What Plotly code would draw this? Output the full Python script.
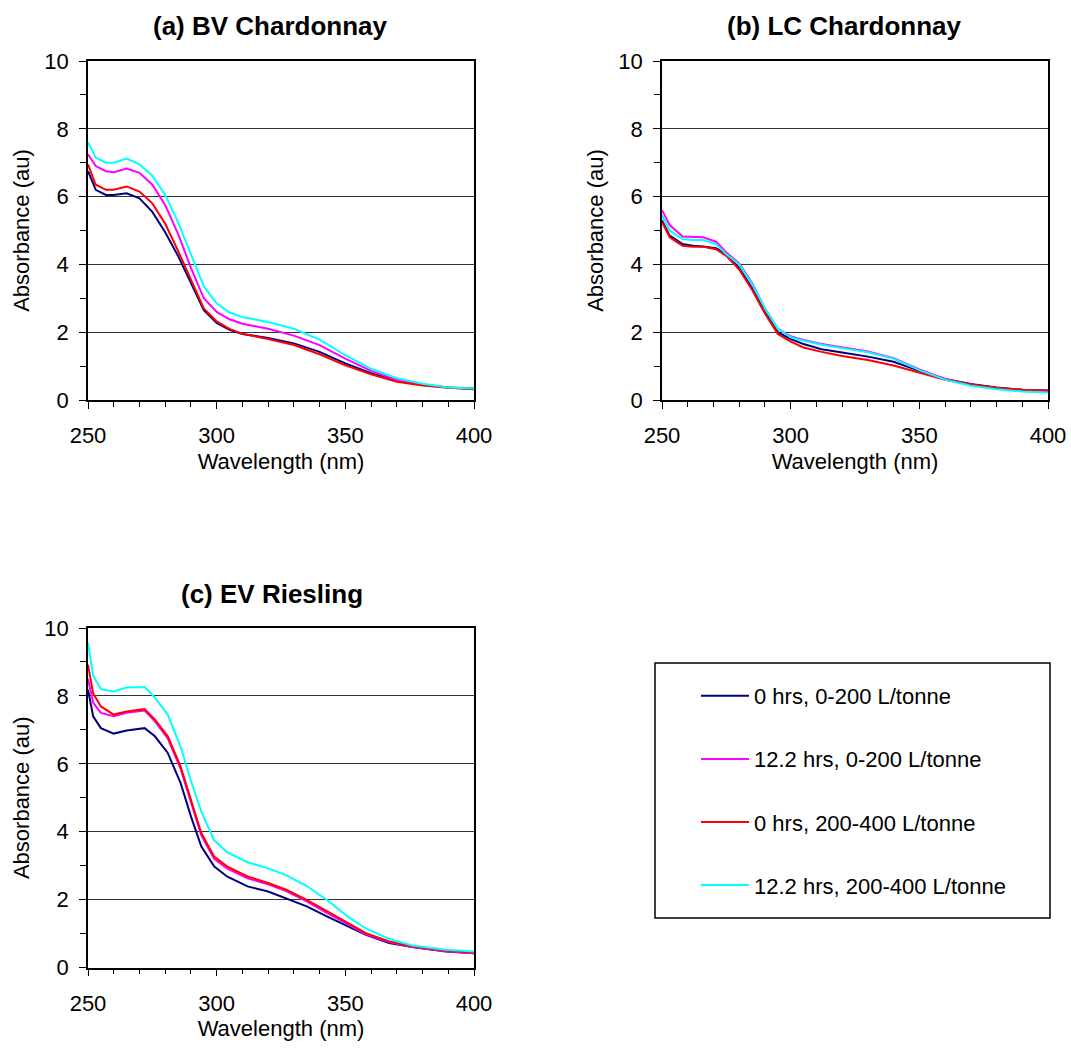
import plotly.graph_objects as go

# ---------------- data ----------------
series_names = ["0 hrs, 0-200 L/tonne", "12.2 hrs, 0-200 L/tonne",
                "0 hrs, 200-400 L/tonne", "12.2 hrs, 200-400 L/tonne"]
series_colors = ["#000080", "#FF00FF", "#FF0000", "#00FFFF"]

# (a) BV Chardonnay
wl_a = [250, 253, 257, 260, 265, 270, 275, 280, 285, 290, 295, 300, 305, 310,
        320, 330, 340, 350, 360, 370, 380, 390, 400]
a_0h_low = [6.75, 6.2, 6.05, 6.05, 6.1, 5.95, 5.55, 4.95, 4.25, 3.45, 2.65, 2.27,
            2.07, 1.95, 1.83, 1.67, 1.42, 1.08, 0.79, 0.57, 0.45, 0.37, 0.34]
a_12h_low = [7.25, 6.9, 6.75, 6.72, 6.83, 6.7, 6.35, 5.75, 4.9, 3.9, 3.0, 2.6,
             2.38, 2.25, 2.1, 1.9, 1.62, 1.22, 0.86, 0.59, 0.45, 0.37, 0.32]
a_0h_high = [6.95, 6.35, 6.2, 6.2, 6.3, 6.15, 5.8, 5.2, 4.4, 3.55, 2.7, 2.32,
             2.1, 1.95, 1.8, 1.62, 1.35, 1.02, 0.76, 0.54, 0.43, 0.36, 0.32]
a_12h_high = [7.6, 7.15, 7.0, 7.0, 7.12, 6.95, 6.62, 6.05, 5.25, 4.3, 3.35, 2.85,
              2.58, 2.45, 2.3, 2.1, 1.78, 1.32, 0.92, 0.64, 0.48, 0.37, 0.34]

# (b) LC Chardonnay
wl_b = [250, 253, 258, 262, 266, 271, 275, 280, 285, 290, 295, 300, 305, 312,
        320, 330, 340, 350, 360, 370, 380, 390, 400]
b_0h_low = [5.3, 4.85, 4.6, 4.55, 4.53, 4.48, 4.3, 3.9, 3.3, 2.6, 2.0, 1.8,
            1.65, 1.5, 1.4, 1.28, 1.13, 0.86, 0.62, 0.47, 0.37, 0.3, 0.28]
b_12h_low = [5.6, 5.16, 4.82, 4.8, 4.8, 4.67, 4.35, 4.03, 3.45, 2.7, 2.1, 1.88,
             1.77, 1.65, 1.55, 1.43, 1.23, 0.9, 0.62, 0.45, 0.35, 0.3, 0.28]
b_0h_high = [5.25, 4.8, 4.55, 4.52, 4.52, 4.45, 4.25, 3.85, 3.25, 2.55, 1.95, 1.72,
             1.55, 1.42, 1.3, 1.18, 1.02, 0.8, 0.6, 0.46, 0.36, 0.3, 0.27]
b_12h_high = [5.45, 5.0, 4.75, 4.72, 4.72, 4.6, 4.3, 4.0, 3.42, 2.7, 2.1, 1.85,
              1.75, 1.63, 1.53, 1.41, 1.22, 0.88, 0.6, 0.42, 0.32, 0.25, 0.22]

# (c) EV Riesling
wl_c = [250, 252, 255, 260, 265, 272, 276, 281, 286, 290, 294, 299, 304, 312,
        320, 327, 335, 343, 351, 358, 367, 376, 389, 400]
c_0h_low = [8.18, 7.4, 7.05, 6.89, 6.98, 7.05, 6.81, 6.32, 5.43, 4.45, 3.57, 2.98,
            2.68, 2.39, 2.24, 2.04, 1.8, 1.5, 1.21, 0.96, 0.72, 0.6, 0.47, 0.42]
c_12h_low = [8.5, 7.8, 7.5, 7.4, 7.5, 7.57, 7.25, 6.75, 5.85, 4.85, 3.9, 3.2,
             2.92, 2.63, 2.45, 2.25, 1.95, 1.6, 1.27, 0.98, 0.75, 0.6, 0.48, 0.42]
c_0h_high = [8.92, 8.08, 7.69, 7.45, 7.54, 7.61, 7.3, 6.81, 5.92, 4.94, 3.96, 3.27,
             2.98, 2.68, 2.49, 2.29, 1.99, 1.65, 1.31, 1.01, 0.77, 0.62, 0.5, 0.44]
c_12h_high = [9.56, 8.6, 8.2, 8.13, 8.25, 8.26, 7.95, 7.45, 6.5, 5.5, 4.6, 3.75,
              3.4, 3.1, 2.92, 2.72, 2.4, 1.98, 1.5, 1.15, 0.84, 0.65, 0.52, 0.47]

panel_titles = ["(a) BV Chardonnay", "(b) LC Chardonnay", "(c) EV Riesling"]
x_title = "Wavelength (nm)"
y_title = "Absorbance (au)"

panels = [
    (wl_a, [a_0h_low, a_12h_low, a_0h_high, a_12h_high], "x", "y"),
    (wl_b, [b_0h_low, b_12h_low, b_0h_high, b_12h_high], "x2", "y2"),
    (wl_c, [c_0h_low, c_12h_low, c_0h_high, c_12h_high], "x3", "y3"),
]

# ---------------- figure ----------------
W, H = 1071, 1048
FONT = "Arial, Liberation Sans, sans-serif"

fig = go.Figure()
for p, (wl, ser, xa, ya) in enumerate(panels):
    for i, vals in enumerate(ser):
        fig.add_trace(go.Scatter(
            x=wl, y=vals, mode="lines", xaxis=xa, yaxis=ya,
            name=series_names[i], legendgroup=series_names[i],
            showlegend=(p == 0),
            line=dict(color=series_colors[i], width=2),
        ))

def px_x(v):
    return v / W

def px_y(v):
    return 1 - v / H

dom_x = {"a": [px_x(88), px_x(474)], "b": [px_x(662), px_x(1048)]}
dom_y = {"top": [px_y(400), px_y(61)], "bot": [px_y(967.5), px_y(628)]}

def xaxis_style(domain, anchor):
    return dict(
        domain=domain, anchor=anchor, range=[250, 400], dtick=50, tick0=250,
        automargin=False,
        showgrid=False, zeroline=False, showline=True, linecolor="black",
        linewidth=1.5, mirror=True, ticks="outside", ticklen=7, tickwidth=1.2,
        tickcolor="black", ticklabelstandoff=8,
        minor=dict(dtick=10, ticks="outside", ticklen=5, tickcolor="black",
                   tickwidth=1.2, showgrid=False),
        tickfont=dict(family=FONT, size=22, color="black"),
        title=dict(text=x_title, font=dict(family=FONT, size=22, color="black"),
                   standoff=6),
    )

def yaxis_style(domain, anchor):
    return dict(
        domain=domain, anchor=anchor, range=[0, 10], dtick=2, tick0=0,
        automargin=False,
        showgrid=True, gridcolor="#333333", gridwidth=1, zeroline=False,
        showline=True, linecolor="black", linewidth=1.5, mirror=True,
        ticks="outside", ticklen=7, tickwidth=1.2, tickcolor="black",
        ticklabelstandoff=6,
        minor=dict(dtick=1, ticks="outside", ticklen=6, tickcolor="black",
                   tickwidth=1.2, showgrid=False),
        tickfont=dict(family=FONT, size=22, color="black"),
        title=dict(text=y_title, font=dict(family=FONT, size=22, color="black"),
                   standoff=9),
    )

fig.update_layout(
    width=W, height=H, margin=dict(l=0, r=0, t=0, b=0, autoexpand=False),
    paper_bgcolor="white", plot_bgcolor="white",
    font=dict(family=FONT, size=22, color="black"),
    xaxis=xaxis_style(dom_x["a"], "y"),
    yaxis=yaxis_style(dom_y["top"], "x"),
    xaxis2=xaxis_style(dom_x["b"], "y2"),
    yaxis2=yaxis_style(dom_y["top"], "x2"),
    xaxis3=xaxis_style(dom_x["a"], "y3"),
    yaxis3=yaxis_style(dom_y["bot"], "x3"),
    legend=dict(
        x=px_x(696), y=px_y(675), xanchor="left", yanchor="top",
        bgcolor="rgba(0,0,0,0)", borderwidth=0,
        font=dict(family=FONT, size=22, color="black"),
        tracegroupgap=31.5, itemwidth=48, traceorder="grouped",
    ),
    showlegend=True,
)

# panel titles
title_pos = [(270, 26), (844, 26), (272, 594)]
for t, (cx, cy) in zip(panel_titles, title_pos):
    fig.add_annotation(text="<b>%s</b>" % t, x=px_x(cx), y=px_y(cy),
                       xref="paper", yref="paper", showarrow=False,
                       xanchor="center", yanchor="middle",
                       font=dict(family=FONT, size=26, color="black"))

# legend frame
fig.add_shape(type="rect", xref="paper", yref="paper",
              x0=px_x(655), x1=px_x(1050), y0=px_y(918), y1=px_y(663),
              line=dict(color="black", width=1.5), fillcolor="rgba(0,0,0,0)")

fig.write_html("out.html")
